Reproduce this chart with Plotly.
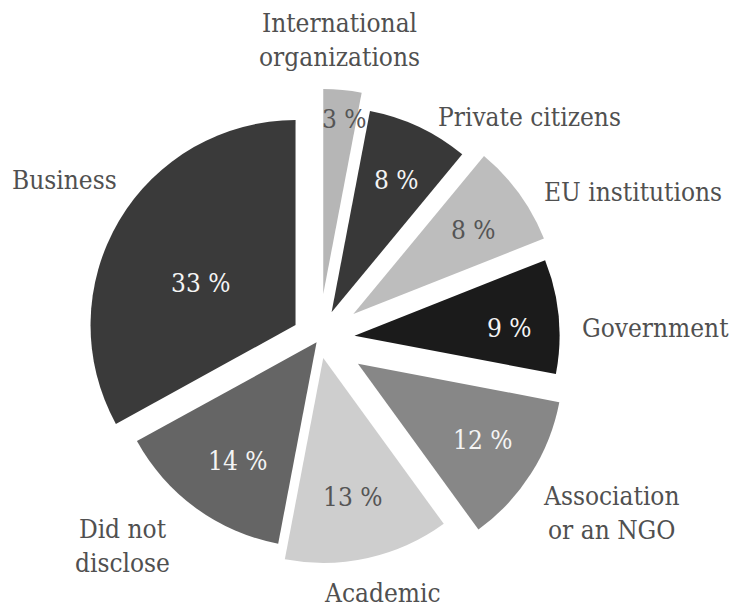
import math
import plotly.graph_objects as go

categories = ["International<br>organizations", "Private citizens", "EU institutions", "Government",
              "Association<br>or an NGO", "Academic", "Did not<br>disclose", "Business"]
shares = [3, 8, 8, 9, 12, 13, 14, 33]

# styling
slice_colors = ["#b6b6b6", "#383838", "#bdbdbd", "#1b1b1b", "#878787", "#cecece", "#656565", "#3a3a3a"]
pct_colors = ["#555555", "#f4f4f4", "#555555", "#f4f4f4", "#f4f4f4", "#555555", "#f4f4f4", "#f4f4f4"]
pulls = [0.22, 0.144, 0.207, 0.174, 0.225, 0.095, 0.02, 0.133]

pct_radius = [222, 177, 189, 191, 192, 162, 147, 131]
pct_angle_nudge = [1.3, 0.6, 0.9, 2.1, -0.6, 0.5, -2.1, -5.4]

label_radius = [300, 251, 267, 261, 340, 262, 254, 300]
label_angle_nudge = [-1.4, 2.6, 2.6, 3.0, -1.6, -1.5, -0.6, 1.4]
label_xanchor = ["center", "left", "left", "left", "center", "center", "right", "center"]

W, H = 735, 608
CX, CY, R = 319, 339, 205           # pie centre and radius in pixels
HALF = R * (1 + max(pulls))
FONT = "DejaVu Serif Condensed, DejaVu Serif, serif"
FS = 26

fig = go.Figure()
fig.add_trace(go.Pie(
    labels=[c.replace("<br>", " ") for c in categories], values=shares,
    sort=False, direction="clockwise", rotation=0,
    pull=pulls, marker=dict(colors=slice_colors, line=dict(width=0)),
    textinfo="none", hoverinfo="label+percent", showlegend=False,
    domain=dict(x=[(CX - HALF) / W, (CX + HALF) / W], y=[1 - (CY + HALF) / H, 1 - (CY - HALF) / H]),
))


def polar(angle_deg, radius):
    a = math.radians(angle_deg)
    return (CX + radius * math.sin(a)) / W, 1 - (CY - radius * math.cos(a)) / H


total = sum(shares)
cum = 0
for i, v in enumerate(shares):
    mid = (cum + v / 2) / total * 360
    cum += v
    # percentage inside the slice
    px, py = polar(mid + pct_angle_nudge[i], pct_radius[i])
    fig.add_annotation(x=px, y=py, xref="paper", yref="paper", text=f"{v} %",
                       xanchor="center", yanchor="middle", showarrow=False,
                       font=dict(family=FONT, size=FS, color=pct_colors[i]))
    # category label outside
    lx, ly = polar(mid + label_angle_nudge[i], label_radius[i])
    fig.add_annotation(x=lx, y=ly, xref="paper", yref="paper", text=categories[i],
                       xanchor=label_xanchor[i], yanchor="middle", align="center", showarrow=False,
                       font=dict(family=FONT, size=FS, color="#505050"))

fig.update_layout(
    width=W, height=H,
    margin=dict(l=0, r=0, t=0, b=0, autoexpand=False),
    paper_bgcolor="white", plot_bgcolor="white",
    font=dict(family=FONT),
)
fig.write_html("out.html", config={"displayModeBar": False},
               post_script="document.body.style.margin='0';")
